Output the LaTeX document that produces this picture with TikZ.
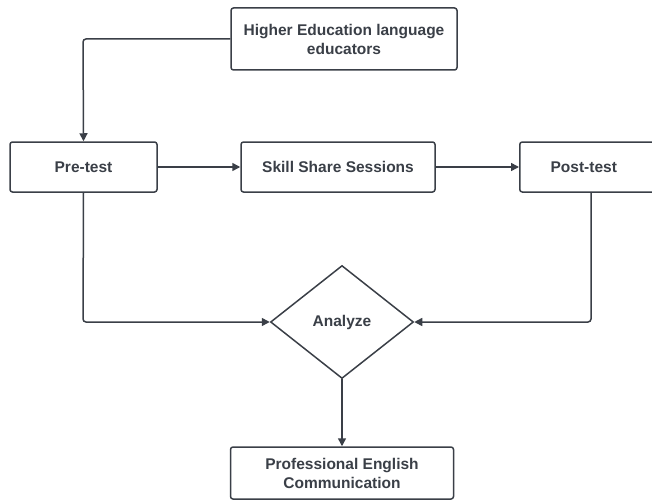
\documentclass[tikz,border=0pt]{standalone}
\usepackage{fontspec}
\setmainfont{Liberation Sans}
\usetikzlibrary{arrows.meta,shapes.geometric}
\definecolor{ln}{HTML}{3A3F47}
\definecolor{tx}{HTML}{3A3F47}
\tikzset{
  box/.style={draw=ln,line width=1.5pt,rounded corners=2.5pt,fill=white,inner sep=0pt,
     text=tx,font=\fontsize{15.5}{19}\selectfont\bfseries,align=center},
  conn/.style={draw=ln,line width=1.5pt,rounded corners=3pt,-{Triangle[length=8pt,width=8pt]}}
}
\begin{document}
\begin{tikzpicture}[x=1pt,y=-1pt]
\useasboundingbox (0,0) rectangle (652,500);
\node[box,minimum width=226pt,minimum height=62pt] (top) at (344,39) {Higher Education language\\educators};
\node[box,minimum width=147pt,minimum height=50pt] (pre) at (83.5,167) {Pre-test};
\node[box,minimum width=194pt,minimum height=50pt] (ss) at (338,167) {Skill Share Sessions};
\node[box,minimum width=138pt,minimum height=50pt,anchor=west] (post) at (519,167) {\hspace*{-10pt}Post-test};
\node[draw=ln,line width=1.5pt,diamond,minimum width=143pt,minimum height=113pt,inner sep=0pt,
  text=tx,font=\fontsize{15.5}{19}\selectfont\bfseries] (an) at (342,322) {Analyze};
\node[box,minimum width=223pt,minimum height=52pt] (pe) at (342,473) {Professional English\\Communication};
\coordinate (c1) at (83,39);
\coordinate (c2) at (83,322);
\coordinate (c3) at (591,322);
\draw[conn] (top.west) -- (c1) -- (pre.north);
\draw[conn] (pre.south) -- (c2) -- (an.west);
\draw[conn] (post.south -| c3) -- (c3) -- (an.east);
\draw[conn] (an.south) -- (pe.north);
\draw[conn] (pre.east) -- (ss.west);
\draw[conn] (ss.east) -- (post.west);
\end{tikzpicture}
\end{document}
